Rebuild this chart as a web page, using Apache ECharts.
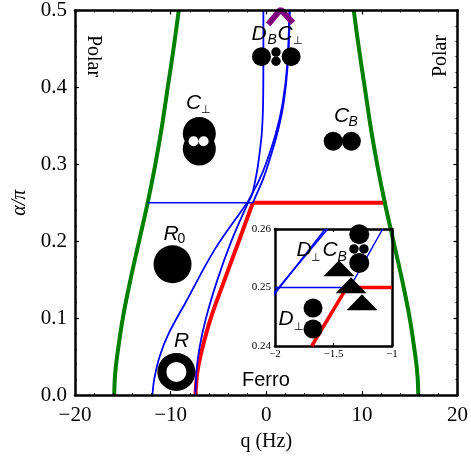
<!DOCTYPE html>
<html><head><meta charset="utf-8">
<style>html,body{margin:0;padding:0;background:#fff}#c{width:471px;height:459px}</style>
<script src="https://cdn.jsdelivr.net/npm/echarts@6/dist/echarts.min.js"></script>
</head><body><div id="c"></div>
<script>
const greenLeft=[[-15.9,0],[-15.82,0.025],[-15.6,0.05],[-15,0.1],[-14.2,0.15],[-13.3,0.2],[-12.4,0.25],[-11.6,0.3],[-10.9,0.35],[-10.3,0.4],[-9.7,0.45],[-9.15,0.5]];
const greenRight=[[15.9,0],[15.82,0.025],[15.6,0.05],[15,0.1],[14.2,0.15],[13.3,0.2],[12.4,0.25],[11.6,0.3],[10.9,0.35],[10.3,0.4],[9.7,0.45],[9.15,0.5]];
const redCurve=[[-7.4,0],[-7.2,0.03],[-6.7,0.06],[-5.8,0.1],[-4.35,0.15],[-2.87,0.2],[-1.4,0.25]];
const redFlat=[[-1.4,0.25],[12.6,0.25]];
const blueA=[[-11.9,0],[-11.72,0.02],[-11.15,0.05],[-10.2,0.08],[-8.45,0.12],[-5.35,0.19],[-2,0.25],[-1.55,0.26],[-0.72,0.28],[-0.05,0.3],[1,0.34],[1.72,0.38],[2.2,0.43],[2.42,0.5]];
const blueB=[[-7.4,0],[-7.3,0.03],[-7,0.06],[-6.3,0.1],[-5.1,0.15],[-3.65,0.2],[-1.9,0.25],[-1.5,0.26],[-1.13,0.28],[-0.85,0.3],[-0.47,0.34],[-0.33,0.38],[-0.3,0.44],[-0.3,0.5]];
const blueC=[[-1.4,0.25],[-1.05,0.26],[-0.35,0.28],[0.2,0.3],[1.15,0.34],[1.82,0.38],[2.25,0.43],[2.47,0.5]];
const blueFlat=[[-12.4,0.25],[-1.4,0.25]];
const purpleMark=[[0.2,0.482],[1.5,0.5013],[2.8,0.484]];
const insetBlueA=[[-2.03,0.2485],[-1.55,0.26]];
const insetBlueB=[[-2.03,0.2482],[-1.57,0.26]];
const insetBlueFlat=[[-2,0.25],[-1.36,0.25]];
const insetBlueC=[[-1.36,0.25],[-1.08,0.26]];
const insetRed=[[-1.686,0.24],[-1.387,0.25],[-1,0.25]];
const ringOuter=[[-9.4,0.03]], ringInner=[[-9.4,0.03]];
const r0Disc=[[-9.8,0.17]];
const cPerpDiscs=[[-7,0.34],[-7,0.32]], cPerpHoles=[[-7.6,0.33],[-6.55,0.33]];
const cBDiscs=[[7,0.33],[8.9,0.33]];
const topDiscs=[[-0.5,0.44],[2.6,0.44]], topDots=[[1.02,0.446],[1.02,0.434]];
const insetCBDiscs=[[-1.28,0.2591],[-1.28,0.2542]], insetCBDots=[[-1.325,0.2566],[-1.24,0.2566]];
const insetDDiscs=[[-1.675,0.2465],[-1.675,0.2429]];
const insetTriangles=[[-1.453,0.2533],[-1.35,0.2504],[-1.256,0.2475]];

const SERIF='"Liberation Serif","Times New Roman",serif', SANS='"Liberation Sans",Arial,sans-serif';
const minus=s=>String(s).replace('-','\u2212');
function xAxis(grid,min,max,interval,pos,show,size,margin,main){return {type:'value',gridIndex:grid,min,max,interval,position:pos,z:6,
  axisLine:{show:true,onZero:false,lineStyle:{color:'#000',width:2.5}},
  axisTick:{show:true,inside:true,length:main?4:3,lineStyle:{color:'#000',width:1.2}},
  minorTick:{show:main,splitNumber:5,length:2,lineStyle:{color:'#000',width:1}},
  splitLine:{show:false},minorSplitLine:{show:false},
  axisLabel:{show,fontFamily:SERIF,fontSize:size,color:'#000',margin,hideOverlap:false,showMinLabel:true,showMaxLabel:true,formatter:v=>minus(v)}};}
function yAxis(grid,min,max,interval,pos,show,size,margin,main,dec){return {type:'value',gridIndex:grid,min,max,interval,position:pos,z:6,
  axisLine:{show:true,onZero:false,lineStyle:{color:'#000',width:2.5}},
  axisTick:{show:true,inside:true,length:main?4:3,lineStyle:{color:'#000',width:1.2}},
  minorTick:{show:main,splitNumber:5,length:2,lineStyle:{color:'#000',width:1}},
  splitLine:{show:false},minorSplitLine:{show:false},
  axisLabel:{show,fontFamily:SERIF,fontSize:size,color:'#000',margin,showMinLabel:true,showMaxLabel:true,formatter:v=>v.toFixed(dec)}};}
function line(data,color,width,ax,z){return {type:'line',data,xAxisIndex:ax,yAxisIndex:ax,showSymbol:false,symbol:'none',
  smooth:data.length>3?0.35:false,clip:true,z:z||3,silent:true,
  lineStyle:{color,width,cap:'butt',join:'miter'},animation:false};}
function dots(data,color,size,ax,symbol,z){return {type:'scatter',data,xAxisIndex:ax,yAxisIndex:ax,symbol:symbol||'circle',symbolSize:size,clip:false,silent:true,z:z||4,
  itemStyle:{color,opacity:1},animation:false};}
function txt(x,y,text,size,opts){opts=opts||{};return {type:'text',x,y,rotation:opts.rot||0,z:20,silent:true,
  style:{text,fill:'#000',textAlign:opts.align||'left',textVerticalAlign:'middle',
    font:(opts.italic===false?'':'italic ')+size+'px '+(opts.family||SANS)}};}

const xs=[xAxis(0,-20,20,10,'bottom',true,21,10,true),xAxis(0,-20,20,10,'top',false,21,8,true),
  xAxis(1,-2,-1,0.5,'bottom',true,11,3,false),xAxis(1,-2,-1,0.5,'top',false,11,4,false)];
xs[0].name='q (Hz)';xs[0].nameLocation='middle';xs[0].nameGap=37;
xs[0].nameTextStyle={fontFamily:SERIF,fontSize:20,color:'#000'};
const ys=[yAxis(0,0,0.5,0.1,'left',true,21,8,true,1),yAxis(0,0,0.5,0.1,'right',false,21,8,true,1),
  yAxis(1,0.24,0.26,0.01,'left',true,11,4,false,2),yAxis(1,0.24,0.26,0.01,'right',false,11,4,false,2)];
ys[0].name='\u03b1/\u03c0';ys[0].nameLocation='middle';ys[0].nameGap=45;ys[0].nameRotate=90;
ys[0].nameTextStyle={fontFamily:SERIF,fontStyle:'italic',fontSize:20,color:'#000'};

const RG=Math.PI/2;
const labels=[
 txt(93.5,56,'Polar',20,{italic:false,family:SERIF,rot:-RG,align:'center'}),
 txt(441,56,'Polar',20,{italic:false,family:SERIF,rot:RG,align:'center'}),
 txt(242,380,'Ferro',20,{italic:false}),
 txt(174,341,'R',21),
 txt(163.5,234,'R',21),txt(177.5,239.5,'0',14,{italic:false}),
 txt(186,103,'C',21),txt(201,110,'\u22a5',11,{italic:false}),
 txt(251.5,34,'D',21),txt(267.5,40,'B',14),txt(277.5,34,'C',21),txt(293,41,'\u22a5',11,{italic:false}),
 txt(334,116,'C',21),txt(348.5,122,'B',14),
 txt(296.5,250,'D',21),txt(311,258,'\u22a5',11,{italic:false}),txt(322.5,250,'C',21),txt(337.5,257,'B',14),
 txt(278.5,319,'D',21),txt(293.5,327,'\u22a5',11,{italic:false})
];

const chart=echarts.init(document.getElementById('c'),null,{renderer:'canvas'});
chart.setOption({animation:false,backgroundColor:'#fff',
 grid:[{left:75,right:11,top:10,bottom:64},{left:275,top:229,width:117,height:117,z:8}],
 xAxis:xs,yAxis:ys,graphic:labels,
 series:[
  line(redCurve,'#ff0000',4,0,3),line(redFlat,'#ff0000',4,0,3),
  line(greenLeft,'#008000',4,0,3),line(greenRight,'#008000',4,0,3),
  line(blueFlat,'#0000ff',1.6,0,4),line(blueA,'#0000ff',1.8,0,4),line(blueB,'#0000ff',1.8,0,4),line(blueC,'#0000ff',1.8,0,4),
  line(purpleMark,'#800080',6,0,4),
  dots(ringOuter,'#000',38,0),dots(ringInner,'#fff',20,0,'circle',5),
  dots(r0Disc,'#000',38,0),
  dots(cPerpDiscs,'#000',33,0),dots(cPerpHoles,'#fff',10,0,'circle',5),
  dots(cBDiscs,'#000',19,0),dots(topDiscs,'#000',19,0),dots(topDots,'#000',9.5,0),
  line(insetRed,'#ff0000',3.5,2,9),
  line(insetBlueA,'#0000ff',1.6,2,9),line(insetBlueB,'#0000ff',1.6,2,9),line(insetBlueFlat,'#0000ff',1.6,2,9),line(insetBlueC,'#0000ff',1.5,2,9),
  dots(insetCBDiscs,'#000',20,2,'circle',10),dots(insetCBDots,'#000',9.5,2,'circle',10),
  dots(insetDDiscs,'#000',19,2,'circle',10),dots(insetTriangles,'#000',[31,16],2,'triangle',10)
 ]});
</script></body></html>
